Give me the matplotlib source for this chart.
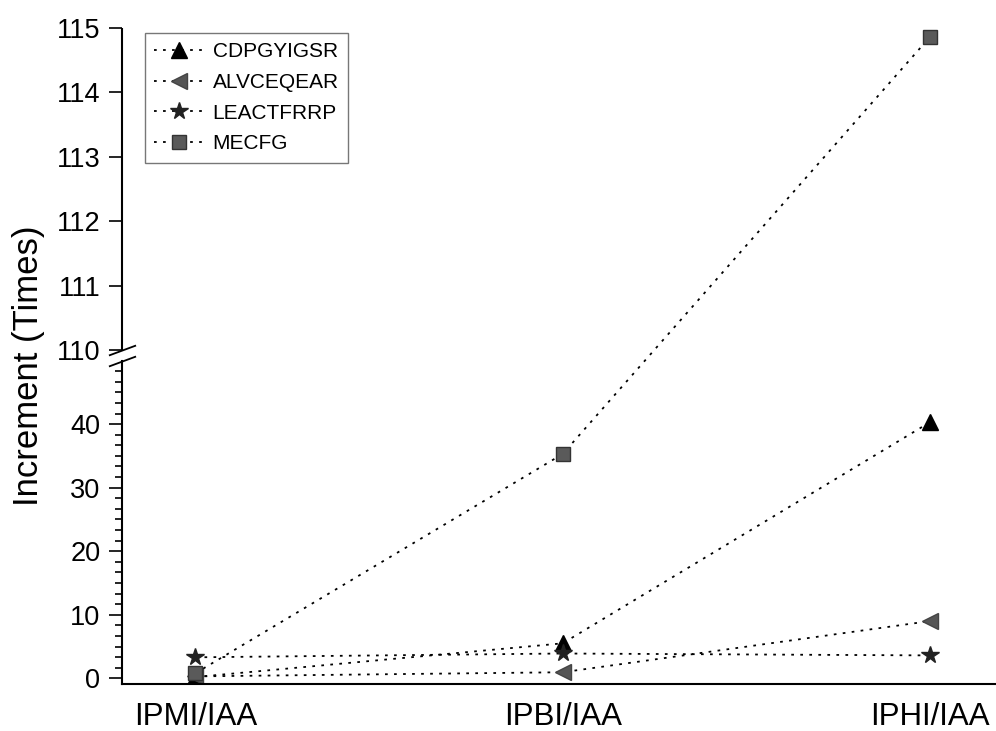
import numpy as np
import matplotlib.pyplot as plt
from matplotlib.ticker import FixedLocator, NullFormatter

plt.rcParams['font.family'] = ['Liberation Sans', 'DejaVu Sans']

groups = ['IPMI/IAA', 'IPBI/IAA', 'IPHI/IAA']
cdpgyigsr = [0.2, 5.5, 40.3]
alvceqear = [0.3, 0.95, 9.0]
leactfrrp = [3.3, 3.9, 3.6]
mecfg = [0.8, 35.3, 114.86]

y_major = [0, 10, 20, 30, 40, 110, 111, 112, 113, 114, 115]
y_minor = [v * 10 / 6 for v in range(0, 31) if v % 6 != 0]

# broken axis: 0-50 linear, gap, 110-115 stretched
LOW, HIGH, GAP, K = 50.0, 110.0, 1.65, 10.14


def fwd(y):
    y = np.asarray(y, dtype=float)
    return np.where(y <= LOW, y,
                    np.where(y < HIGH, LOW + (y - LOW) * GAP / (HIGH - LOW),
                             LOW + GAP + (y - HIGH) * K))


def inv(t):
    t = np.asarray(t, dtype=float)
    return np.where(t <= LOW, t,
                    np.where(t < LOW + GAP, LOW + (t - LOW) * (HIGH - LOW) / GAP,
                             HIGH + (t - LOW - GAP) / K))


fig = plt.figure(figsize=(9.96, 7.31), dpi=100)
ax = fig.add_axes([0.1225, 0.0643, 0.8775, 0.8974])
ax.set_yscale('function', functions=(fwd, inv))

x = np.arange(1, len(groups) + 1)
ls = (0, (1.5, 3.5))
lw = 1.3
ax.plot(x, cdpgyigsr, ls=ls, lw=lw, color='black', marker='^', ms=11,
        mfc='black', mec='black', label='CDPGYIGSR')
ax.plot(x, alvceqear, ls=ls, lw=lw, color='black', marker='<', ms=11,
        mfc='#555555', mec='#444444', label='ALVCEQEAR')
ax.plot(x, leactfrrp, ls=ls, lw=lw, color='black', marker='*', ms=13,
        mfc='#222222', mec='#222222', label='LEACTFRRP')
ax.plot(x, mecfg, ls=ls, lw=lw, color='black', marker='s', ms=9.5,
        mfc='#5a5a5a', mec='#333333', mew=1.0, label='MECFG')

ax.set_xlim(0.8, 3.18)
ax.set_ylim(-0.9, 115)
ax.set_xticks(x)
ax.set_xticklabels(groups)
ax.tick_params(axis='x', length=0, pad=13, labelsize=22.5)

ax.yaxis.set_major_locator(FixedLocator(y_major))
ax.yaxis.set_minor_locator(FixedLocator(y_minor))
ax.yaxis.set_minor_formatter(NullFormatter())
ax.set_yticklabels([str(v) for v in y_major])
ax.tick_params(axis='y', which='major', direction='out', length=9.5, width=1.2,
               pad=6, labelsize=19.5)
ax.tick_params(axis='y', which='minor', direction='out', length=5, width=1.2)

for s in ['top', 'right']:
    ax.spines[s].set_visible(False)
ax.spines['bottom'].set_linewidth(1.5)
ax.spines['left'].set_linewidth(1.5)
ax.spines['left'].set_bounds(-0.9, LOW)
ax.plot([0, 0], [HIGH, 115], transform=ax.get_yaxis_transform(),
        color='black', lw=1.5, clip_on=False, solid_capstyle='butt')
d = 0.37
ax.plot([0, 0], [HIGH, LOW], transform=ax.get_yaxis_transform(),
        marker=[(-1, -d), (1, d)], ms=19.5, ls='none', color='black',
        mec='black', mew=1.3, clip_on=False)

fig.text(0.029, 0.50, 'Increment (Times)', rotation=90, ha='center',
         va='center', fontsize=25)

leg = ax.legend(loc='upper left', bbox_to_anchor=(145 / 996, 1 - 33 / 731),
                bbox_transform=fig.transFigure, fontsize=15, frameon=True,
                fancybox=False, edgecolor='#555555', handlelength=2.35,
                handletextpad=0.45, labelspacing=0.56, borderpad=0.45,
                borderaxespad=0)
leg.get_frame().set_linewidth(1.0)

fig.savefig('out.png', dpi=100)
